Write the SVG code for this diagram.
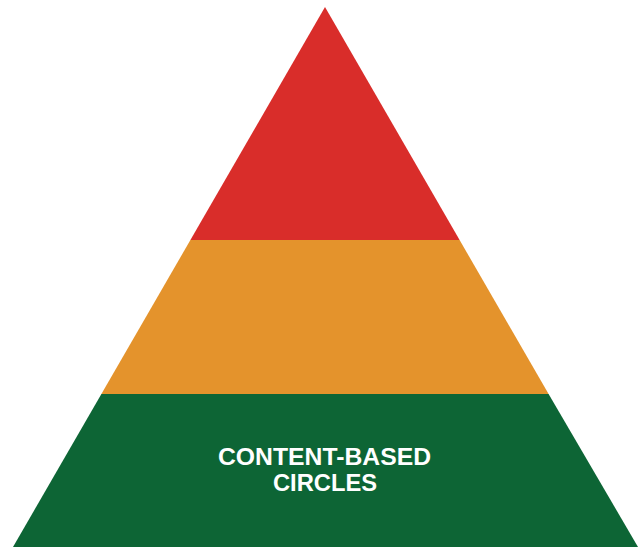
<svg xmlns="http://www.w3.org/2000/svg" width="638" height="547" viewBox="0 0 638 547">
  <style>
    .lbl { font-family: "Liberation Sans", Arial, sans-serif; font-weight: bold; font-size: 23px; fill: #ffffff; text-anchor: middle; }
  </style>
  <rect width="638" height="547" fill="#ffffff"/>
  <g id="tier-top">
    <polygon points="325,7 459.6,240 190.4,240" fill="#D92D2A"/>
  </g>
  <g id="tier-middle">
    <polygon points="190.4,240 459.6,240 548.6,394 101.4,394" fill="#E4932C"/>
  </g>
  <g id="tier-bottom">
    <polygon points="101.4,394 548.6,394 638,547 13,547" fill="#0D6535"/>
    <text class="lbl" x="324.5" y="465" textLength="213" lengthAdjust="spacingAndGlyphs">CONTENT-BASED</text>
    <text class="lbl" x="325" y="490.5" textLength="104" lengthAdjust="spacingAndGlyphs">CIRCLES</text>
  </g>
  <g id="connectors"/>
</svg>
